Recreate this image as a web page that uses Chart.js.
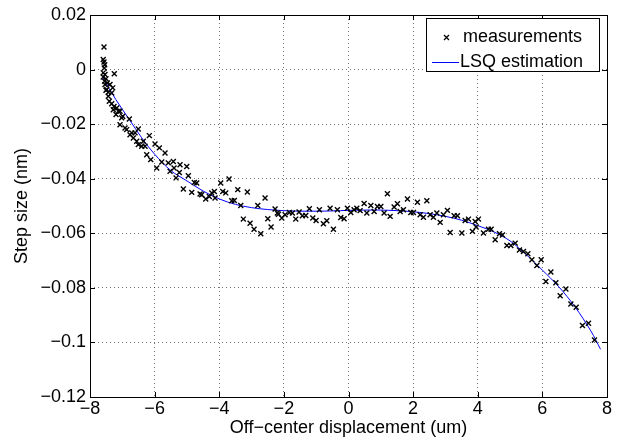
<!DOCTYPE html>
<html>
<head>
<meta charset="utf-8">
<script src="https://cdn.jsdelivr.net/npm/chart.js@4/dist/chart.umd.min.js"></script>
<style>
html,body{margin:0;padding:0;background:#fff;}
</style>
</head>
<body>
<canvas id="grafico" width="624" height="442"></canvas>
<script>
// ejes
const xTicks = [-8, -6, -4, -2, 0, 2, 4, 6, 8];
const xTickLabels = ['\u22128', '\u22126', '\u22124', '\u22122', '0', '2', '4', '6', '8'];
const yTicks = [-0.12, -0.1, -0.08, -0.06, -0.04, -0.02, 0, 0.02];
const yTickLabels = ['\u22120.12', '\u22120.1', '\u22120.08', '\u22120.06', '\u22120.04', '\u22120.02', '0', '0.02'];

// mediciones
const measX = [
  -7.567, -7.590, -7.567, -7.545, -7.557, -7.248, -7.590, -7.536, -7.590, -7.505,
  -7.545, -7.464, -7.536, -7.381, -7.297, -7.483, -7.505, -7.433, -7.328, -7.433,
  -7.402, -7.328, -7.257, -7.173, -7.279, -7.071, -7.195, -6.988, -6.783,
  -7.124, -7.019, -7.071, -6.916, -6.864, -6.505, -6.709, -6.762, -6.607, -6.659,
  -6.554, -6.350, -6.164, -6.505, -6.399, -6.297, -5.988, -5.854, -6.245, -6.121,
  -5.678, -5.780, -5.935, -5.576, -5.421, -5.523, -5.399, -5.214, -5.235, -5.006,
  -4.957,
  -5.337, -4.771, -4.697, -5.111, -4.851, -4.594, -4.542, -4.418, -4.307, -4.232,
  -4.152, -4.130, -3.954, -3.697, -3.892, -3.799, -3.613, -3.533, -3.427, -3.334,
  -3.130, -3.254, -3.046, -2.923, -2.808, -2.582, -2.498, -2.715, -2.396, -2.272,
  -2.201,
  -2.065, -2.170, -1.963, -1.830, -1.737, -1.632, -1.529, -1.427, -1.322, -1.211,
  -1.105, -1.003, -0.901, -0.777, -0.672, -0.570, -0.467, -0.344, -0.238, -0.136,
  -0.034, 0.071, 0.173, 0.257, 0.359, 0.483, 0.567, 0.690, 0.793, 0.895,
  1.000, 1.102, 1.204, 1.288, 1.412, 1.514, 1.598, 1.700, 1.824, 1.929,
  2.009, 2.133,
  2.217, 2.319, 2.424, 2.526, 2.628, 2.734, 2.836, 2.938, 3.062, 3.146,
  3.269, 3.372, 3.508, 3.610, 3.712, 3.836, 3.920, 4.022, 3.950,
  4.176, 4.331, 4.415, 4.539, 4.672, 4.765, 4.901, 5.025, 5.158, 5.291,
  5.415, 5.551, 5.675, 5.830, 5.963, 6.108, 6.263, 6.418, 6.551, 6.728,
  6.882, 7.046, 7.241, 7.427, 7.613
];
const measY = [
  0.0083, 0.0037, 0.0028, 0.0018, 0.0006, -0.0015, -0.0012, -0.0018, -0.0027, -0.0034,
  -0.0043, -0.0049, -0.0055, -0.0055, -0.0067, -0.0073, -0.0076, -0.0083, -0.0086, -0.0098,
  -0.0116, -0.0125, -0.0135, -0.0141, -0.0147, -0.0153, -0.0165, -0.0171, -0.0181,
  -0.0153, -0.0177, -0.0202, -0.0214, -0.0220, -0.0218, -0.0232, -0.0239, -0.0232, -0.0251,
  -0.0263, -0.0263, -0.0242, -0.0275, -0.0281, -0.0281, -0.0273, -0.0287, -0.0312, -0.0330,
  -0.0306, -0.0339, -0.0361, -0.0342, -0.0337, -0.0373, -0.0361, -0.0349, -0.0377, -0.0355,
  -0.0389,
  -0.0397, -0.0414, -0.0416, -0.0438, -0.0450, -0.0456, -0.0459, -0.0474, -0.0465, -0.0452,
  -0.0447, -0.0471, -0.0416, -0.0401, -0.0447, -0.0452, -0.0481, -0.0480, -0.0440, -0.0498,
  -0.0449, -0.0548, -0.0563, -0.0585, -0.0498, -0.0471, -0.0547, -0.0602, -0.0577, -0.0511,
  -0.0526,
  -0.0544, -0.0530, -0.0532, -0.0524, -0.0526, -0.0548, -0.0522, -0.0536, -0.0535, -0.0510,
  -0.0544, -0.0553, -0.0514, -0.0565, -0.0554, -0.0508, -0.0585, -0.0514, -0.0542, -0.0547,
  -0.0508, -0.0524, -0.0514, -0.0508, -0.0517, -0.0491, -0.0526, -0.0498, -0.0520, -0.0502,
  -0.0502, -0.0526, -0.0455, -0.0538, -0.0504, -0.0492, -0.0520, -0.0514, -0.0474, -0.0524,
  -0.0524, -0.0486,
  -0.0532, -0.0541, -0.0481, -0.0532, -0.0541, -0.0526, -0.0560, -0.0532, -0.0516, -0.0597,
  -0.0536, -0.0536, -0.0599, -0.0553, -0.0548, -0.0593, -0.0557, -0.0548, -0.0577,
  -0.0599, -0.0585, -0.0585, -0.0624, -0.0602, -0.0606, -0.0645, -0.0645, -0.0636, -0.0661,
  -0.0667, -0.0675, -0.0697, -0.0718, -0.0697, -0.0777, -0.0742, -0.0781, -0.0829, -0.0804,
  -0.0859, -0.0871, -0.0938, -0.0930, -0.0991
];

// curva LSQ
const fitX = [-7.6, -7.2, -6.8, -6.4, -6.0, -5.5, -5.0, -4.5, -4.0, -3.5, -3.0, -2.5, -2.0,
  -1.5, -1.0, -0.5, 0, 0.5, 1.0, 1.5, 2.0, 2.5, 3.0, 3.5, 4.0, 4.5, 5.0, 5.5, 6.0, 6.5, 7.0, 7.5, 7.8];
const fitY = [-0.0030, -0.0110, -0.0180, -0.0250, -0.0310, -0.0370, -0.0408, -0.0445, -0.0474,
  -0.0494, -0.0506, -0.0513, -0.0517, -0.0519, -0.0519, -0.0518, -0.0516, -0.0515, -0.0515,
  -0.0517, -0.0521, -0.0528, -0.0538, -0.0552, -0.0572, -0.0595, -0.0628, -0.0678, -0.0735,
  -0.0795, -0.0868, -0.0958, -0.1025];

const fuente = 'Liberation Sans, Arial, Helvetica, sans-serif';

const marco = {
  id: 'marco',
  afterDraw(chart) {
    const ctx = chart.ctx;
    const a = chart.chartArea;
    const sx = chart.scales.x, sy = chart.scales.y;
    ctx.save();
    ctx.strokeStyle = '#000';
    ctx.lineWidth = 1;
    ctx.strokeRect(Math.round(a.left) + 0.5, Math.round(a.top) + 0.5,
      Math.round(a.right - a.left), Math.round(a.bottom - a.top));
    ctx.beginPath();
    xTicks.forEach(v => {
      const px = Math.round(sx.getPixelForValue(v)) + 0.5;
      ctx.moveTo(px, a.bottom); ctx.lineTo(px, a.bottom - 5);
      ctx.moveTo(px, a.top); ctx.lineTo(px, a.top + 5);
    });
    yTicks.forEach(v => {
      const py = Math.round(sy.getPixelForValue(v)) + 0.5;
      ctx.moveTo(a.left, py); ctx.lineTo(a.left + 5, py);
      ctx.moveTo(a.right, py); ctx.lineTo(a.right - 5, py);
    });
    ctx.stroke();

    // leyenda
    const bx = 426.5, by = 18.5, bw = 173, bh = 53;
    ctx.fillStyle = '#fff';
    ctx.fillRect(bx, by, bw, bh);
    ctx.strokeRect(bx, by, bw, bh);
    ctx.lineWidth = 1.3;
    ctx.beginPath();
    ctx.moveTo(444, 35); ctx.lineTo(449, 40);
    ctx.moveTo(449, 35); ctx.lineTo(444, 40);
    ctx.stroke();
    ctx.lineWidth = 1;
    ctx.strokeStyle = '#0000ff';
    ctx.beginPath();
    ctx.moveTo(432, 62.5); ctx.lineTo(459, 62.5);
    ctx.stroke();
    ctx.fillStyle = '#000';
    ctx.font = '18px ' + fuente;
    ctx.textBaseline = 'middle';
    ctx.fillText('measurements', 463, 37);
    ctx.fillText('LSQ estimation', 460, 62);
    ctx.restore();
  }
};

new Chart(document.getElementById('grafico'), {
  type: 'scatter',
  data: {
    datasets: [{
      label: 'measurements',
      data: measX.map((x, i) => ({x: x, y: measY[i]})),
      pointStyle: 'crossRot',
      pointRadius: 3.5,
      borderWidth: 1.4,
      borderColor: '#000',
      backgroundColor: '#000'
    }, {
      label: 'LSQ estimation',
      type: 'line',
      data: fitX.map((x, i) => ({x: x, y: fitY[i]})),
      borderColor: '#0000ff',
      borderWidth: 1,
      pointRadius: 0,
      tension: 0.35,
      fill: false
    }]
  },
  options: {
    responsive: false,
    animation: false,
    layout: {padding: {left: 0, right: 17, top: 15, bottom: 0}},
    plugins: {legend: {display: false}, tooltip: {enabled: false}},
    scales: {
      x: {
        type: 'linear', min: -8, max: 8,
        afterBuildTicks: s => { s.ticks = xTicks.map(v => ({value: v})); },
        afterFit: s => { s.height = 45; },
        ticks: {
          callback: v => xTickLabels[xTicks.indexOf(v)],
          color: '#000', padding: 1, maxRotation: 0,
          font: {family: fuente, size: 18}
        },
        grid: {color: 'rgba(0,0,0,0.55)', drawTicks: false},
        border: {display: false, dash: [1, 3]},
        title: {display: true, text: 'Off\u2212center displacement (um)', color: '#000',
          font: {family: fuente, size: 18}, padding: {top: 0, bottom: 3}}
      },
      y: {
        type: 'linear', min: -0.12, max: 0.02,
        afterBuildTicks: s => { s.ticks = yTicks.map(v => ({value: v})); },
        afterFit: s => { s.width = 90; },
        ticks: {
          callback: v => yTickLabels[yTicks.indexOf(v)],
          color: '#000', padding: 4,
          font: {family: fuente, size: 18}
        },
        grid: {color: 'rgba(0,0,0,0.55)', drawTicks: false},
        border: {display: false, dash: [1, 3]},
        title: {display: true, text: 'Step size (nm)', color: '#000',
          font: {family: fuente, size: 18}, padding: {top: 11, bottom: 0}}
      }
    }
  },
  plugins: [marco]
});
</script>
</body>
</html>
